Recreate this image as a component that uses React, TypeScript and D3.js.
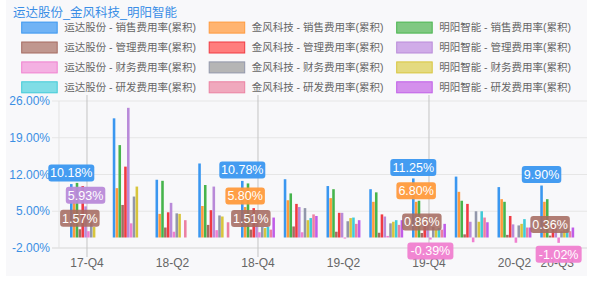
import React from 'react'
import * as d3 from 'd3'

const categories = ['17-Q4', '18-Q1', '18-Q2', '18-Q3', '18-Q4', '19-Q1', '19-Q2', '19-Q3', '19-Q4', '20-Q1', '20-Q2', '20-Q3']
const xTickLabels = ['17-Q4', '18-Q2', '18-Q4', '19-Q2', '19-Q4', '20-Q2', '20-Q3']
const markerCats = ['17-Q4', '18-Q4', '19-Q4']
const yTicks = [-2, 5, 12, 19, 26]

// 运达股份 / 金风科技 / 明阳智能, cumulative expense ratios (%)
const yundaSales = [10.18, 22.7, 11.0, 14.1, 10.78, 11.1, 9.8, 9.2, 11.25, 11.6, 9.6, 9.9]
const goldwindSales = [7.5, 9.4, 4.5, 6.0, 5.8, 7.1, 7.5, 6.8, 6.8, 8.7, 7.3, 6.8]
const mingyangSales = [10.4, 17.6, 10.8, 10.0, 10.3, 8.4, 9.2, 8.6, 7.0, 7.0, 6.8, 7.3]
const yundaAdmin = [1.57, 6.2, 1.9, 2.4, 1.51, 2.1, 1.1, 0.9, 0.86, 0.6, 0.5, 0.36]
const goldwindAdmin = [9.8, 13.5, 4.8, 5.2, 5.6, 6.4, 4.7, 4.4, 2.8, 6.4, 4.1, 2.5]
const mingyangAdmin = [5.93, 24.7, 6.6, 9.7, 3.0, 5.8, 4.7, 4.0, 2.5, 3.0, 2.5, 1.8]
const yundaFinance = [1.2, 2.7, 1.1, 1.4, 1.0, 1.0, -0.2, 0.3, -0.39, -0.9, -1.0, -1.02]
const goldwindFinance = [3.0, 7.8, 4.6, 4.2, 2.0, 5.6, 3.1, 2.7, 2.0, 5.0, 2.3, 1.2]
const mingyangFinance = [2.0, 9.7, 4.5, 4.0, 1.8, 3.3, 3.7, 3.0, 1.5, 3.0, 2.6, 1.5]
const yundaRD = [null, null, null, null, 2.0, 3.7, 3.8, 3.3, 1.8, 5.0, 3.5, 1.8]
const goldwindRD = [null, null, 3.3, 2.9, 1.5, 4.4, 2.6, 2.4, 1.5, 3.8, 1.9, 1.2]
const mingyangRD = [null, null, null, null, 3.8, 4.1, 3.3, 3.3, 2.6, 2.9, 1.9, 1.9]

const seriesNames = [
  '运达股份 - 销售费用率(累积)', '金风科技 - 销售费用率(累积)', '明阳智能 - 销售费用率(累积)',
  '运达股份 - 管理费用率(累积)', '金风科技 - 管理费用率(累积)', '明阳智能 - 管理费用率(累积)',
  '运达股份 - 财务费用率(累积)', '金风科技 - 财务费用率(累积)', '明阳智能 - 财务费用率(累积)',
  '运达股份 - 研发费用率(累积)', '金风科技 - 研发费用率(累积)', '明阳智能 - 研发费用率(累积)',
]
const seriesValues = [
  yundaSales, goldwindSales, mingyangSales,
  yundaAdmin, goldwindAdmin, mingyangAdmin,
  yundaFinance, goldwindFinance, mingyangFinance,
  yundaRD, goldwindRD, mingyangRD,
]
const colors = [
  '#3a97f0', '#ff9a3c', '#46b44c',
  '#a56b61', '#f03a42', '#b98ad9',
  '#f080d0', '#9297ab', '#d8c53c',
  '#40cbd8', '#ec80a2', '#c05de8',
]
const swatchFills = [
  '#70b3f5', '#ffb470', '#80c882',
  '#c0978f', '#ff7d7d', '#d0ace8',
  '#f4b0e2', '#b5b5b5', '#e4da80',
  '#80dde6', '#f0a8bd', '#d490ec',
]

// badges: [series index, category]
const badges: [number, string][] = [
  [0, '17-Q4'], [5, '17-Q4'], [3, '17-Q4'],
  [0, '18-Q4'], [1, '18-Q4'], [3, '18-Q4'],
  [0, '19-Q4'], [1, '19-Q4'], [3, '19-Q4'], [6, '19-Q4'],
  [0, '20-Q3'], [3, '20-Q3'], [6, '20-Q3'],
]

const FONT = '"Liberation Sans", "Noto Sans CJK SC", sans-serif'

export default function App() {
  const x = d3.scaleBand<string>().domain(categories).range([65.6, 578.6])
  const xi = d3.scaleBand<number>().domain(d3.range(seriesValues.length))
    .range([0.1 * x.bandwidth(), 0.9 * x.bandwidth()])
    .paddingInner(0.1).paddingOuter(0.05)
  const y = d3.scaleLinear().domain([-2, 26]).range([248, 101])

  const left = 59, right = 587

  return (
    <svg width={600} height={291} style={{ position: 'absolute', left: 0, top: 0 }} fontFamily={FONT}>
      <rect x={0} y={0} width={600} height={291} fill="#ffffff" />
      <rect x={6} y={0} width={581} height={276} fill="#f8f8fa" />

      <text x={13} y={17} fontSize={12.5} fill="#3a8ee6">运达股份_金风科技_明阳智能</text>

      {seriesNames.map((name, i) => {
        const cx = 21.7 + (i % 3) * 187.5
        const cy = 27.6 + Math.floor(i / 3) * 19.9
        return (
          <g key={name}>
            <rect x={cx} y={cy - 5.5} width={35.5} height={11} fill={swatchFills[i]} stroke={colors[i]} strokeWidth={1} />
            <text x={cx + 42.5} y={cy} dy="0.35em" fontSize={10.5} fill="#666">{name}</text>
          </g>
        )
      })}

      {/* grid */}
      {yTicks.map(t => (
        <g key={t}>
          <line x1={52} x2={right} y1={y(t)} y2={y(t)} stroke={t === -2 ? '#d6d6d6' : '#e6e6e6'} />
          <text x={50} y={y(t)} dy="0.35em" textAnchor="end" fontSize={12} fill="#3b8fe4">{t.toFixed(2)}%</text>
        </g>
      ))}
      <line x1={left} x2={left} y1={y(26)} y2={y(-2)} stroke="#e3e3e3" />

      {markerCats.map(c => {
        const mx = (x(c) as number) + x.bandwidth() / 2
        return <line key={c} x1={mx} x2={mx} y1={95} y2={257} stroke="#c4c4c4" />
      })}

      {/* bars */}
      {seriesValues.map((vals, si) => (
        <g key={si} fill={colors[si]}>
          {vals.map((v, ci) => {
            if (v == null) return null
            const bx = (x(categories[ci]) as number) + (xi(si) as number)
            return (
              <rect key={ci} x={bx} width={xi.bandwidth()}
                y={Math.min(y(v), y(0))} height={Math.abs(y(v) - y(0))} />
            )
          })}
        </g>
      ))}

      {xTickLabels.map(c => (
        <text key={c} x={(x(c) as number) + x.bandwidth() / 2} y={267} textAnchor="middle" fontSize={12} fill="#666">{c}</text>
      ))}

      {/* value badges */}
      {badges.map(([si, c]) => {
        const ci = categories.indexOf(c)
        const v = seriesValues[si][ci] as number
        const label = v.toFixed(2) + '%'
        const bw = label.length * 6.5 + 7
        const bh = 17
        const cx = (x(c) as number) + (xi(si) as number) + xi.bandwidth() / 2
        const by = v >= 0 ? y(v) - 2.5 - bh : y(v) + 3
        return (
          <g key={si + c}>
            <rect x={cx - bw / 2} y={by} width={bw} height={bh} rx={3} fill={colors[si]} opacity={si === 3 ? 0.88 : 0.95} />
            <text x={cx} y={by + bh / 2} dy="0.35em" textAnchor="middle" fontSize={12.5} fill="#fff">{label}</text>
          </g>
        )
      })}
    </svg>
  )
}
